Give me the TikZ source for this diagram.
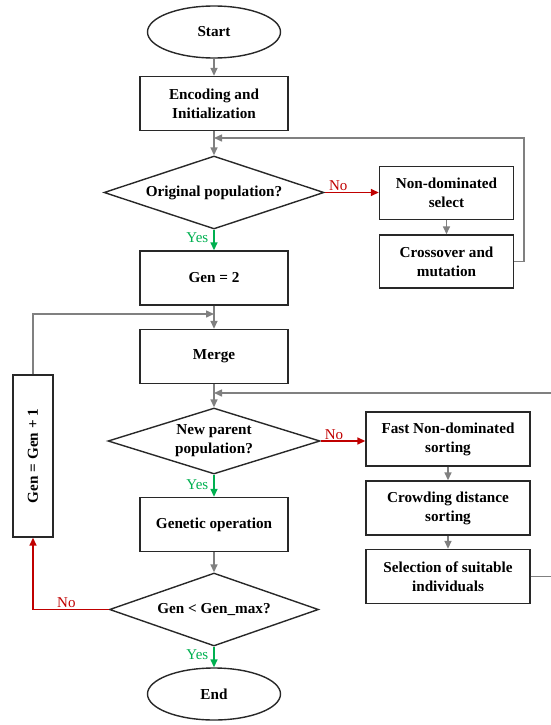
\documentclass[tikz,border=0pt]{standalone}
\usepackage{fontspec}
\setmainfont{Liberation Serif}
\usetikzlibrary{shapes.geometric,arrows.meta}
\definecolor{lgray}{RGB}{128,128,128}
\definecolor{cred}{RGB}{192,0,0}
\definecolor{cgreen}{RGB}{0,176,80}
\definecolor{edge}{RGB}{40,40,40}
\begin{document}
\begin{tikzpicture}[x=1pt,y=-1pt,
  box/.style={draw=edge, line width=1.4pt, minimum width=148pt, minimum height=54pt, align=center, inner sep=2pt, font=\bfseries\fontsize{15.2}{19}\selectfont},
  sbox/.style={box, minimum width=134pt, minimum height=53pt},
  rbox/.style={box, minimum width=164pt, minimum height=54pt},
  term/.style={ellipse, draw=edge, line width=1.4pt, minimum width=133pt, minimum height=52pt, inner sep=0pt, font=\bfseries\fontsize{15.2}{19}\selectfont},
  dec/.style={diamond, draw=edge, line width=1.4pt, inner sep=0pt},
  dtext/.style={align=center, font=\bfseries\fontsize{15.2}{19}\selectfont},
  garr/.style={draw=lgray, line width=1.5pt, -{Triangle[length=8pt,width=7pt]}},
  rarr/.style={draw=cred, line width=1.5pt, -{Triangle[length=8pt,width=7pt]}},
  yarr/.style={draw=cgreen, line width=1.5pt, -{Triangle[length=8pt,width=7pt]}},
  nolab/.style={text=cred, font=\fontsize{15}{17}\selectfont, inner sep=1pt},
  yeslab/.style={text=cgreen, font=\fontsize{15}{17}\selectfont, inner sep=1pt}
]
\useasboundingbox (0,0) rectangle (550,725);

\node[term] (start) at (214,32) {Start};
\node[box] (enc) at (214,103.5) {Encoding and\\Initialization};
\node[dec, minimum width=220pt, minimum height=73pt] (d1) at (214,192.5) {};
\node[dtext] (d1t) at (d1) {Original population?};
\node[sbox] (nd) at (446.5,193) {Non-dominated\\select};
\node[sbox] (cross) at (446.5,261.5) {Crossover and\\mutation};
\node[box] (gen2) at (214,278) {Gen = 2};
\node[box] (merge) at (214,356.5) {Merge};
\node[dec, minimum width=212pt, minimum height=66pt] (d2) at (214,441) {};
\node[dtext] (d2t) at (d2) {New parent\\population?};
\node[rbox] (fast) at (448,439) {Fast Non-dominated\\sorting};
\node[rbox] (crowd) at (448,508) {Crowding distance\\sorting};
\node[rbox] (sel) at (448,576.5) {Selection of suitable\\individuals};
\node[box] (genop) at (214,524.5) {Genetic operation};
\node[dec, minimum width=209pt, minimum height=73pt] (d3) at (214,609.5) {};
\node[dtext] (d3t) at (d3) {Gen < Gen\_max?};
\node[term] (end) at (214,694) {End};
\node[box, rotate=90, minimum width=162pt, minimum height=40pt] (gpp) at (33,456) {Gen = Gen + 1};

\coordinate (j1) at (214,138);
\coordinate (j2) at (214,314);
\coordinate (j3) at (214,393);
\coordinate (r1) at (524,138);
\coordinate (r2) at (553,393);

% main flow
\draw[garr] (start) -- (enc);
\draw[garr] (enc) -- (d1);
\draw[rarr] (d1.east) -- node[nolab, above, pos=0.25] {No} (d1.east -| nd.west);
\draw[garr] (nd) -- (cross);
\draw[garr] (cross.east) -| (r1) -- (j1);
\draw[yarr] (d1.south) -- node[yeslab, left, pos=0.4, xshift=-4pt] {Yes} (gen2.north);
\draw[garr] (gen2) -- (merge);
\draw[garr] (gpp.east) |- (j2);
\draw[garr] (merge) -- (d2);
\draw[rarr] (d2.east) -- node[nolab, above, pos=0.3] {No} (d2.east -| fast.west);
\draw[garr] (fast) -- (crowd);
\draw[garr] (crowd) -- (sel);
\draw[garr] (sel.east) -| (r2) -- (j3);
\draw[yarr] (d2.south) -- node[yeslab, left, pos=0.45, xshift=-4pt] {Yes} (genop.north);
\draw[garr] (genop) -- (d3);
\draw[rarr] (d3.west) -| node[nolab, above, pos=0.28] {No} (gpp.west);
\draw[yarr] (d3.south) -- node[yeslab, left, pos=0.4, xshift=-4pt] {Yes} (end.north);
\end{tikzpicture}
\end{document}
